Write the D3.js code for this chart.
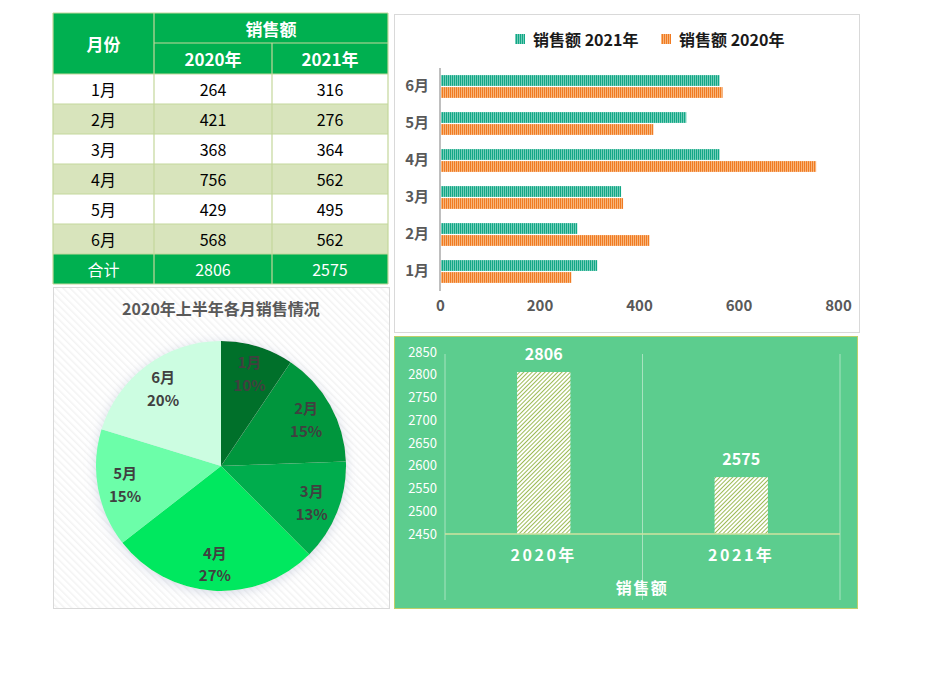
<!DOCTYPE html>
<html>
<head>
<meta charset="utf-8">
<script src="https://cdn.jsdelivr.net/npm/d3@7/dist/d3.min.js"></script>
<style>
  html, body { margin: 0; padding: 0; background: #ffffff; }
  svg { display: block; font-family: "Noto Sans CJK SC", "Noto Sans", sans-serif; }
</style>
</head>
<body>
<svg id="chart" width="941" height="698"></svg>
<script>
// ---------- data ----------
const months = ["1月", "2月", "3月", "4月", "5月", "6月"];
const sales2020 = [264, 421, 368, 756, 429, 568];
const sales2021 = [316, 276, 364, 562, 495, 562];
const yearLabels = ["2020年", "2021年"];
const totalLabel = "合计";
const pieTitle = "2020年上半年各月销售情况";
const piePercents = ["10%", "15%", "13%", "27%", "15%", "20%"];
const barXTicks = [0, 200, 400, 600, 800];
const totalYTicks = [2450, 2500, 2550, 2600, 2650, 2700, 2750, 2800, 2850];
const legendLabels = ["销售额 2021年", "销售额 2020年"];
const groupLabel = "销售额";
const monthHeader = "月份";

const totals = [d3.sum(sales2020), d3.sum(sales2021)];

const svg = d3.select("#chart");
const defs = svg.append("defs");

// patterns
const pTeal = defs.append("pattern").attr("id", "pTeal").attr("patternUnits", "userSpaceOnUse")
  .attr("width", 2).attr("height", 4);
pTeal.append("rect").attr("width", 2).attr("height", 4).attr("fill", "#72cdb9");
pTeal.append("rect").attr("width", 1).attr("height", 4).attr("fill", "#12a785");

const pOrange = defs.append("pattern").attr("id", "pOrange").attr("patternUnits", "userSpaceOnUse")
  .attr("width", 2).attr("height", 4);
pOrange.append("rect").attr("width", 2).attr("height", 4).attr("fill", "#f8b57a");
pOrange.append("rect").attr("width", 1).attr("height", 4).attr("fill", "#f07a22");

const pHatch = defs.append("pattern").attr("id", "pHatch").attr("patternUnits", "userSpaceOnUse")
  .attr("width", 3).attr("height", 3).attr("patternTransform", "rotate(45)");
pHatch.append("rect").attr("width", 3).attr("height", 3).attr("fill", "#ffffff");
pHatch.append("rect").attr("width", 1).attr("height", 3).attr("fill", "#9cba55");

const pBg = defs.append("pattern").attr("id", "pBg").attr("patternUnits", "userSpaceOnUse")
  .attr("width", 5).attr("height", 5).attr("patternTransform", "rotate(-45)");
pBg.append("rect").attr("width", 5).attr("height", 5).attr("fill", "#ffffff");
pBg.append("rect").attr("width", 1.5).attr("height", 5).attr("fill", "#f3f3f3");

const shadow = defs.append("filter").attr("id", "pieShadow")
  .attr("x", "-20%").attr("y", "-20%").attr("width", "140%").attr("height", "140%");
shadow.append("feDropShadow").attr("dx", 0).attr("dy", 2).attr("stdDeviation", 6)
  .attr("flood-color", "#8796b8").attr("flood-opacity", 0.35);

// ---------- table ----------
(function drawTable() {
  const g = svg.append("g");
  const cols = [53, 154, 272, 388];
  const headerTop = 13, headerMid = 43, headerBottom = 74;
  const rowH = 30;
  const green = "#00b050";
  const alt = "#d8e4bc";
  const line = "#c4d79b";

  g.append("rect").attr("x", cols[0]).attr("y", headerTop).attr("width", cols[3] - cols[0])
    .attr("height", headerBottom - headerTop).attr("fill", green);

  const rows = months.map((m, i) => ({ m, a: sales2020[i], b: sales2021[i], i }));
  const rowY = i => headerBottom + i * rowH;

  g.selectAll("rect.row").data(rows).join("rect").attr("class", "row")
    .attr("x", cols[0]).attr("y", d => rowY(d.i)).attr("width", cols[3] - cols[0]).attr("height", rowH)
    .attr("fill", d => d.i % 2 === 1 ? alt : "#ffffff");

  const totY = rowY(months.length);
  g.append("rect").attr("x", cols[0]).attr("y", totY).attr("width", cols[3] - cols[0]).attr("height", rowH)
    .attr("fill", green);

  const hl = [headerTop, headerBottom];
  for (let i = 1; i <= months.length + 1; i++) hl.push(rowY(i));
  hl.forEach(y => g.append("line").attr("x1", cols[0]).attr("x2", cols[3]).attr("y1", y).attr("y2", y)
    .attr("stroke", line).attr("stroke-width", 1.2));
  g.append("line").attr("x1", cols[1]).attr("x2", cols[3]).attr("y1", headerMid).attr("y2", headerMid)
    .attr("stroke", line).attr("stroke-width", 1.2);
  cols.forEach((x, ci) => {
    const y1 = (ci === 2) ? headerMid : headerTop;
    g.append("line").attr("x1", x).attr("x2", x).attr("y1", y1).attr("y2", totY + rowH)
      .attr("stroke", line).attr("stroke-width", 1.2);
  });

  const cx = i => (cols[i] + cols[i + 1]) / 2;
  const txt = (x, y, s, opts) => g.append("text").attr("x", x).attr("y", y).text(s)
    .attr("text-anchor", "middle").attr("dominant-baseline", "central")
    .attr("font-size", opts.size || 16).attr("font-weight", opts.bold ? "bold" : "normal")
    .attr("fill", opts.fill || "#000");

  txt(cx(0), (headerTop + headerBottom) / 2, monthHeader, { bold: true, fill: "#fff", size: 17 });
  txt((cols[1] + cols[3]) / 2, (headerTop + headerMid) / 2, groupLabel, { bold: true, fill: "#fff", size: 17 });
  txt(cx(1), (headerMid + headerBottom) / 2, yearLabels[0], { bold: true, fill: "#fff", size: 17 });
  txt(cx(2), (headerMid + headerBottom) / 2, yearLabels[1], { bold: true, fill: "#fff", size: 17 });

  rows.forEach(d => {
    const y = rowY(d.i) + rowH / 2;
    txt(cx(0), y, d.m, {});
    txt(cx(1), y, d.a, {});
    txt(cx(2), y, d.b, {});
  });
  txt(cx(0), totY + rowH / 2, totalLabel, { fill: "#fff" });
  txt(cx(1), totY + rowH / 2, totals[0], { fill: "#fff" });
  txt(cx(2), totY + rowH / 2, totals[1], { fill: "#fff" });
})();

// ---------- horizontal bar chart ----------
(function drawBars() {
  const g = svg.append("g");
  g.append("rect").attr("x", 394.5).attr("y", 14.5).attr("width", 465).attr("height", 318)
    .attr("fill", "#fff").attr("stroke", "#d9d9d9");

  const x = d3.scaleLinear().domain([0, 800]).range([440, 838]);
  const y = d3.scaleBand().domain(months.slice().reverse()).range([68, 290])
    .paddingInner(0.32).paddingOuter(0.16);
  const sub = d3.scaleBand().domain(["2021", "2020"]).range([0, y.bandwidth()]).padding(0.1);

  const data = [];
  months.forEach((m, i) => {
    data.push({ m, s: "2021", v: sales2021[i] });
    data.push({ m, s: "2020", v: sales2020[i] });
  });

  g.selectAll("rect.bar").data(data).join("rect").attr("class", "bar")
    .attr("x", x(0)).attr("y", d => y(d.m) + sub(d.s))
    .attr("width", d => x(d.v) - x(0)).attr("height", sub.bandwidth())
    .attr("fill", d => d.s === "2021" ? "url(#pTeal)" : "url(#pOrange)");

  g.append("line").attr("x1", x(0)).attr("x2", x(0)).attr("y1", 68).attr("y2", 291)
    .attr("stroke", "#bfbfbf").attr("stroke-width", 2);

  const yAxis = d3.axisLeft(y).tickSize(0).tickPadding(10);
  const ya = g.append("g").attr("transform", `translate(${x(0) - 1},0)`).call(yAxis);
  ya.select(".domain").remove();
  ya.selectAll("text").attr("font-size", 15).attr("font-weight", "bold").attr("fill", "#595959")
    .attr("font-family", "Noto Sans CJK SC");

  const xAxis = d3.axisBottom(x).tickValues(barXTicks).tickSize(0).tickPadding(0);
  const xa = g.append("g").attr("transform", `translate(0,300)`).call(xAxis);
  xa.select(".domain").remove();
  xa.selectAll("text").attr("font-size", 15).attr("font-weight", "bold").attr("fill", "#595959")
    .attr("font-family", "Noto Sans CJK SC");

  const lg = g.append("g");
  const lx = [515, 661];
  const fills = ["url(#pTeal)", "url(#pOrange)"];
  legendLabels.forEach((t, i) => {
    lg.append("rect").attr("x", lx[i]).attr("y", 34).attr("width", 10).attr("height", 10).attr("fill", fills[i]);
    lg.append("text").attr("x", lx[i] + 18).attr("y", 39).attr("dominant-baseline", "central")
      .attr("font-size", 16).attr("font-weight", "bold").attr("fill", "#1a1a1a").text(t);
  });
})();

// ---------- pie chart ----------
(function drawPie() {
  const g = svg.append("g");
  g.append("rect").attr("x", 53.5).attr("y", 287.5).attr("width", 336).attr("height", 321)
    .attr("fill", "url(#pBg)").attr("stroke", "#d9d9d9");

  g.append("text").attr("x", 221).attr("y", 308).attr("text-anchor", "middle").attr("dominant-baseline", "central")
    .attr("font-size", 16).attr("font-weight", "bold").attr("fill", "#595959").text(pieTitle);

  const colors = ["#006f2c", "#00963c", "#00ad4e", "#00e85e", "#6cfea9", "#ccfde1"];
  const r = 125;
  const pg = g.append("g").attr("transform", "translate(221,466)");
  const pie = d3.pie().sort(null).value(d => d.v);
  const arcs = pie(months.map((m, i) => ({ m, v: sales2020[i], p: piePercents[i], i })));
  const arc = d3.arc().innerRadius(0).outerRadius(r);
  const labelArc = d3.arc().innerRadius(r * 0.78).outerRadius(r * 0.78);

  const slices = pg.append("g").attr("filter", "url(#pieShadow)");
  slices.selectAll("path").data(arcs).join("path")
    .attr("d", arc).attr("fill", d => colors[d.data.i]);

  const labels = pg.selectAll("g.lbl").data(arcs).join("g").attr("class", "lbl")
    .attr("transform", d => `translate(${labelArc.centroid(d)})`);
  labels.append("text").attr("y", -11).attr("text-anchor", "middle").attr("dominant-baseline", "central")
    .attr("font-size", 15).attr("font-weight", "bold").attr("fill", "#404040").text(d => d.data.m);
  labels.append("text").attr("y", 11.5).attr("text-anchor", "middle").attr("dominant-baseline", "central")
    .attr("font-size", 15).attr("font-weight", "bold").attr("fill", "#404040").text(d => d.data.p);
})();

// ---------- totals column chart ----------
(function drawTotals() {
  const g = svg.append("g");
  g.append("rect").attr("x", 394.5).attr("y", 336.5).attr("width", 463).attr("height", 272)
    .attr("fill", "#5ccd8e").attr("stroke", "#bfcf6a");

  const x = d3.scaleBand().domain(yearLabels).range([445, 840]).paddingInner(0.73).paddingOuter(0.365);
  const y = d3.scaleLinear().domain([2450, 2850]).range([534, 352]);

  const seps = [445, 445 + x.step(), 840];
  seps.forEach(sx => g.append("line").attr("x1", sx).attr("x2", sx).attr("y1", 354).attr("y2", 600)
    .attr("stroke", "#a7e3bf").attr("stroke-width", 1));

  const data = yearLabels.map((c, i) => ({ c, v: totals[i] }));
  g.selectAll("rect.tb").data(data).join("rect").attr("class", "tb")
    .attr("x", d => x(d.c)).attr("y", d => y(d.v)).attr("width", x.bandwidth())
    .attr("height", d => y(2450) - y(d.v)).attr("fill", "url(#pHatch)");

  g.append("line").attr("x1", 445).attr("x2", 840).attr("y1", y(2450)).attr("y2", y(2450))
    .attr("stroke", "#cfe29f").attr("stroke-width", 1.5);

  const yAxis = d3.axisLeft(y).tickValues(totalYTicks).tickFormat(d3.format("d")).tickSize(0).tickPadding(0);
  const ya = g.append("g").attr("transform", "translate(437,0)").call(yAxis);
  ya.select(".domain").remove();
  ya.selectAll("text").attr("font-size", 13).attr("fill", "#ffffff").attr("font-family", "Noto Sans CJK SC");

  g.selectAll("text.val").data(data).join("text").attr("class", "val")
    .attr("x", d => x(d.c) + x.bandwidth() / 2).attr("y", d => y(d.v) - 19)
    .attr("text-anchor", "middle").attr("dominant-baseline", "central")
    .attr("font-size", 16).attr("font-weight", "bold").attr("fill", "#fff").text(d => d.v);

  g.selectAll("text.cat").data(data).join("text").attr("class", "cat")
    .attr("x", d => x(d.c) + x.bandwidth() / 2).attr("y", 554)
    .attr("text-anchor", "middle").attr("dominant-baseline", "central")
    .attr("font-size", 16).attr("font-weight", "bold").attr("fill", "#fff")
    .attr("letter-spacing", 2.5).text(d => d.c);

  g.append("text").attr("x", 642).attr("y", 587).attr("text-anchor", "middle").attr("dominant-baseline", "central")
    .attr("font-size", 16).attr("font-weight", "bold").attr("fill", "#fff").attr("letter-spacing", 1.5)
    .text(groupLabel);
})();
</script>
</body>
</html>
